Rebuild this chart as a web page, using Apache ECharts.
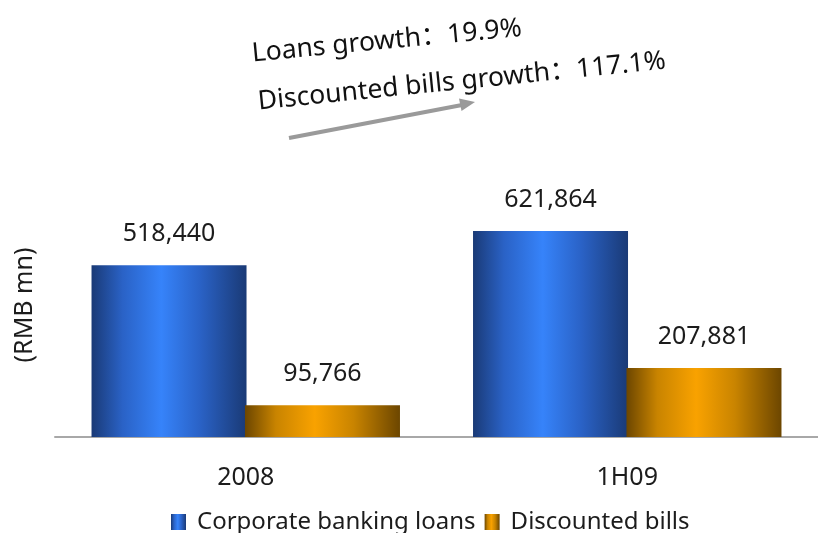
<!DOCTYPE html>
<html>
<head>
<meta charset="utf-8">
<script src="https://cdn.jsdelivr.net/npm/echarts@6/dist/echarts.min.js"></script>
<style>
  html, body { margin: 0; padding: 0; background: #ffffff; }
  #chart { width: 818px; height: 533px; }
</style>
</head>
<body>
<div id="chart"></div>
<script>
// Periods on the category axis
const periods = ['2008', '1H09'];
// Balances in RMB millions
const corporateLoans = [518440, 621864];
const discountedBills = [95766, 207881];
// Series names shown in the legend
const seriesNames = ['Corporate banking loans', 'Discounted bills'];
// Growth notes above the bars
const growthNotes = ['Loans growth：19.9%', 'Discounted bills growth：117.1%'];
const unitLabel = '(RMB mn)';

const FONT = '"Noto Sans", "Noto Sans CJK SC", sans-serif';
const TEXT = '#1c1c1c';

// Horizontal shading that gives the bars a cylinder look
function shade(edge, mid, bright) {
  return new echarts.graphic.LinearGradient(0, 0, 1, 0, [
    { offset: 0, color: edge },
    { offset: 0.2, color: mid },
    { offset: 0.45, color: bright },
    { offset: 0.7, color: mid },
    { offset: 1, color: edge }
  ]);
}
const blueFill = shade('#1a3a76', '#2a62c6', '#3683fa');
const orangeFill = shade('#6c4600', '#c98400', '#f9a200');

const fmt = v => Number(v).toLocaleString('en-US');

const barLabel = {
  show: true,
  position: 'top',
  distance: 19,
  fontFamily: FONT,
  fontSize: 25,
  color: TEXT,
  formatter: p => fmt(p.value)
};

const chart = echarts.init(document.getElementById('chart'), null, { renderer: 'canvas' });

chart.setOption({
  backgroundColor: '#ffffff',
  animation: false,
  grid: { left: 55, width: 772, top: 205, bottom: 96, containLabel: false },
  legend: {
    left: 171,
    top: 510,
    padding: 0,
    itemWidth: 15,
    itemHeight: 16,
    itemGap: 9,
    icon: 'rect',
    textStyle: { fontFamily: FONT, fontSize: 24, color: TEXT, padding: [0, 0, 0, 6] },
    data: seriesNames
  },
  xAxis: {
    type: 'category',
    data: periods,
    axisTick: { show: false },
    axisLine: { lineStyle: { color: '#a8a8a8', width: 2 } },
    axisLabel: { fontFamily: FONT, fontSize: 25, color: TEXT, margin: 28 }
  },
  yAxis: {
    type: 'value',
    min: 0,
    max: 700000,
    show: false,
    splitLine: { show: false }
  },
  series: [
    {
      name: seriesNames[0],
      type: 'bar',
      data: corporateLoans,
      barWidth: 155,
      barGap: '-1%',
      itemStyle: { color: blueFill },
      label: barLabel
    },
    {
      name: seriesNames[1],
      type: 'bar',
      data: discountedBills,
      barWidth: 155,
      itemStyle: { color: orangeFill },
      label: barLabel
    }
  ],
  graphic: [
    {
      type: 'text',
      x: 25, y: 305,
      rotation: Math.PI / 2,
      style: { text: unitLabel, fontFamily: FONT, fontSize: 25, fill: TEXT, align: 'center', verticalAlign: 'middle' }
    },
    {
      type: 'text',
      x: 252, y: 54,
      rotation: 0.095,
      style: { text: growthNotes[0], fontFamily: FONT, fontSize: 26.5, fill: '#111', align: 'left', verticalAlign: 'middle' }
    },
    {
      type: 'text',
      x: 258, y: 102,
      rotation: 0.1,
      style: { text: growthNotes[1], fontFamily: FONT, fontSize: 26.5, fill: '#111', align: 'left', verticalAlign: 'middle' }
    },
    {
      type: 'line',
      shape: { x1: 289, y1: 138, x2: 462, y2: 105 },
      style: { stroke: '#9a9a9a', lineWidth: 4 }
    },
    {
      type: 'polygon',
      shape: { points: [[475, 102], [459, 98.5], [461.5, 111]] },
      style: { fill: '#9a9a9a' }
    }
  ]
});
</script>
</body>
</html>
